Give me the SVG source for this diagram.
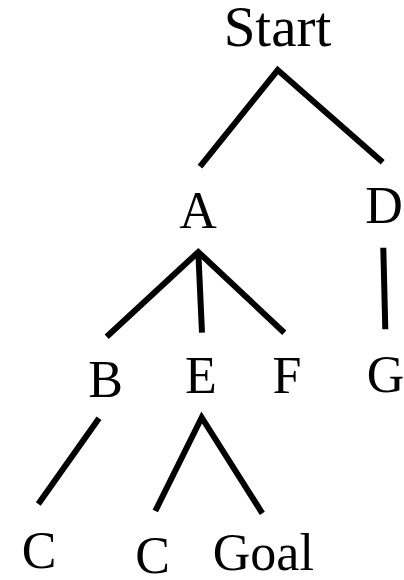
<svg xmlns="http://www.w3.org/2000/svg" width="404" height="580" viewBox="0 0 404 580">
<style>
.lbl{font-family:"Liberation Serif","DejaVu Serif",serif;font-size:52px;fill:#000;text-anchor:middle}
.big{font-size:57px}
.edge{stroke:#000;stroke-width:6;fill:none}
</style>
<rect width="404" height="580" fill="#fff"/>
<g id="connectors">
<path class="edge" d="M200,166.7 L277.7,70 L382.7,162.3"/>
<path class="edge" d="M106.7,336.7 L198.3,252 L284.3,332.7"/>
<path class="edge" d="M198.3,252 L202,332.7"/>
<path class="edge" d="M383.3,247.7 L385.3,329.3"/>
<path class="edge" d="M99,418.3 L38.3,504"/>
<path class="edge" d="M155.3,511 L201.7,417.5 L262.3,513.3"/>
</g>
<g id="node-start"><text class="lbl big" x="277.5" y="46">Start</text></g>
<g id="node-A"><text class="lbl" x="198" y="228">A</text></g>
<g id="node-D"><text class="lbl" x="384" y="222.5">D</text></g>
<g id="node-B"><text class="lbl" x="105.5" y="396.5">B</text></g>
<g id="node-E"><text class="lbl" x="201" y="393">E</text></g>
<g id="node-F"><text class="lbl" x="287" y="393">F</text></g>
<g id="node-G"><text class="lbl" x="385.5" y="392">G</text></g>
<g id="node-C1"><text class="lbl" x="39" y="567.5">C</text></g>
<g id="node-C2"><text class="lbl" x="152.5" y="573">C</text></g>
<g id="node-goal"><text class="lbl" x="263.3" y="570">Goal</text></g>
</svg>
